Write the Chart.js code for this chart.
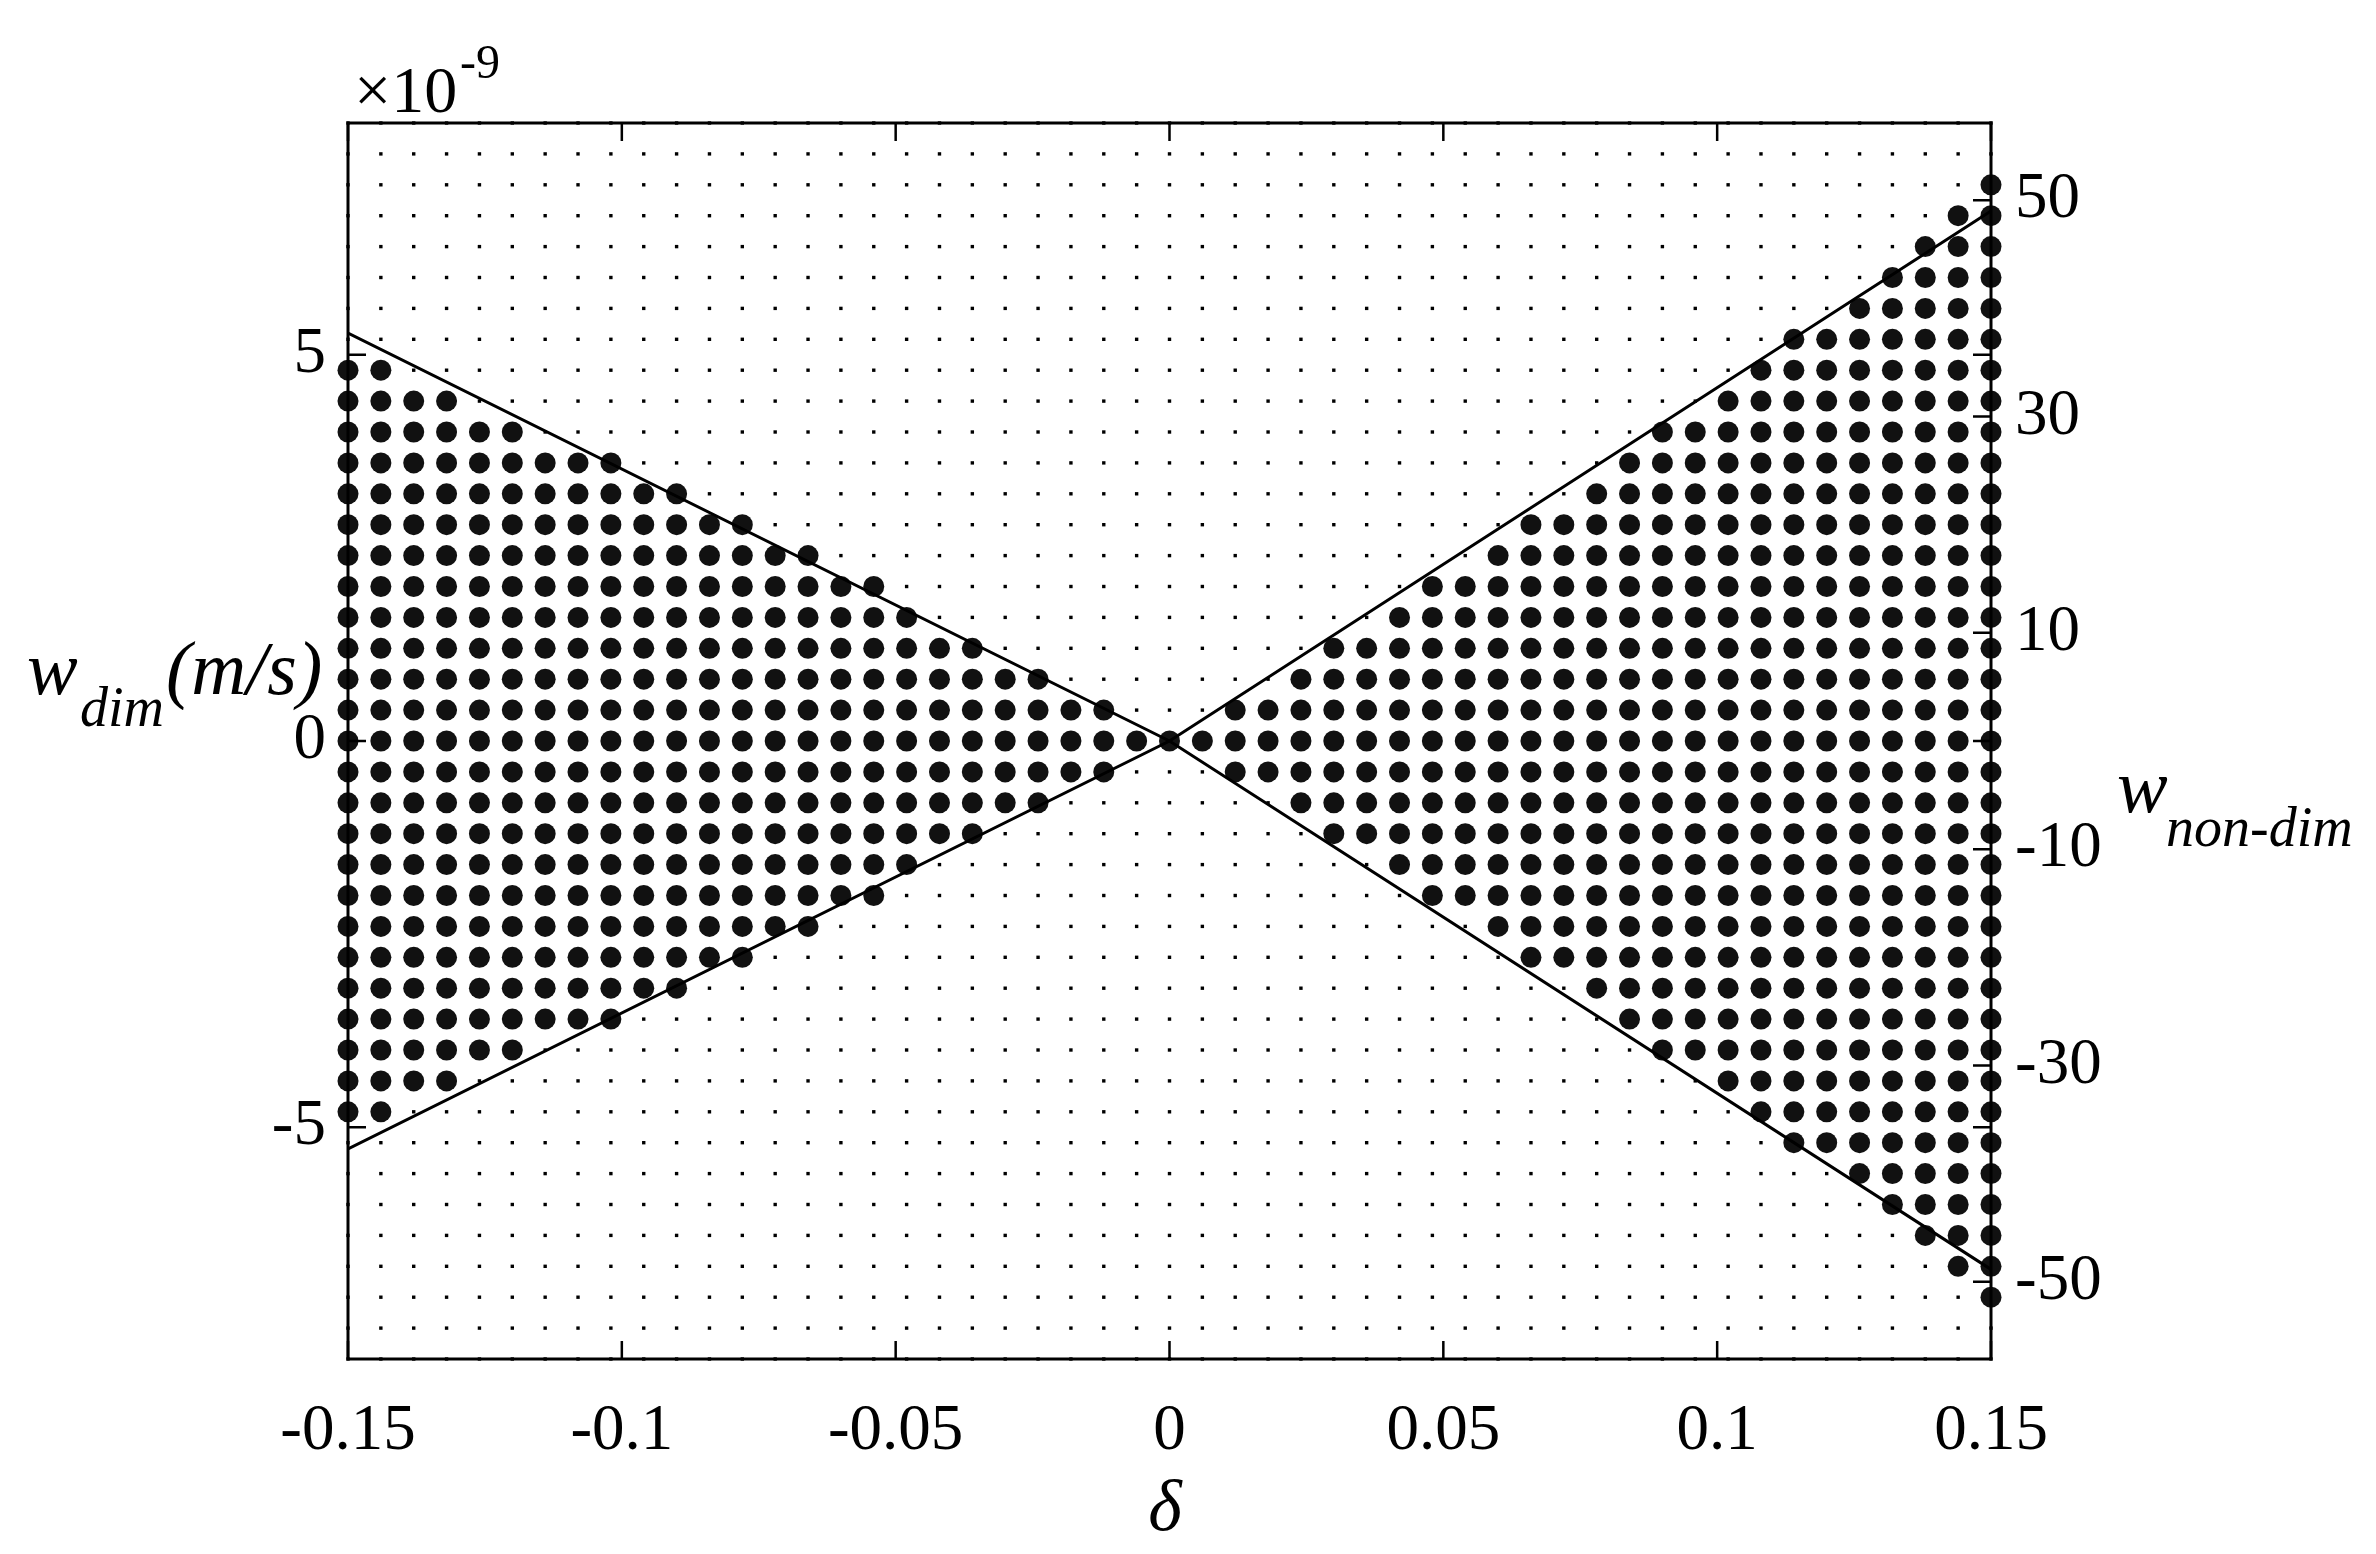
<!DOCTYPE html>
<html>
<head>
<meta charset="utf-8">
<script src="https://cdn.jsdelivr.net/npm/chart.js@4.4.1/dist/chart.umd.min.js"></script>
<style>
  html, body { margin: 0; padding: 0; background: #fff; }
  #wrap { width: 2376px; height: 1554px; position: relative; }
</style>
</head>
<body>
<div id="wrap"><canvas id="grafico"></canvas></div>
<script>
// tick labels
const deltaTicks = [-0.15, -0.1, -0.05, 0, 0.05, 0.1, 0.15];
const wDimTicks = [-5, 0, 5];                  // x 10^-9 m/s
const wNonDimTicks = [-50, -30, -10, 10, 30, 50];
const wNonDimRange = [-57.14, 57.14];          // right axis limits

// grid of computed points (delta, w_dim in 10^-9 m/s)
const deltaGrid = [-0.150, -0.144, -0.138, -0.132, -0.126, -0.120, -0.114, -0.108, -0.102, -0.096,
  -0.090, -0.084, -0.078, -0.072, -0.066, -0.060, -0.054, -0.048, -0.042, -0.036,
  -0.030, -0.024, -0.018, -0.012, -0.006, 0, 0.006, 0.012, 0.018, 0.024,
  0.030, 0.036, 0.042, 0.048, 0.054, 0.060, 0.066, 0.072, 0.078, 0.084,
  0.090, 0.096, 0.102, 0.108, 0.114, 0.120, 0.126, 0.132, 0.138, 0.144, 0.150];
const wGrid = [-8.0, -7.6, -7.2, -6.8, -6.4, -6.0, -5.6, -5.2, -4.8, -4.4,
  -4.0, -3.6, -3.2, -2.8, -2.4, -2.0, -1.6, -1.2, -0.8, -0.4,
  0, 0.4, 0.8, 1.2, 1.6, 2.0, 2.4, 2.8, 3.2, 3.6,
  4.0, 4.4, 4.8, 5.2, 5.6, 6.0, 6.4, 6.8, 7.2, 7.6, 8.0];

// for each delta column: how many grid rows above (and below) zero are big dots
const bigRows = [12, 12, 11, 11, 10, 10, 9, 9, 9, 8, 8, 7, 7, 6, 6, 5, 5, 4, 3, 3, 2, 2, 1, 1, 0,
  0, 0, 1, 1, 2, 3, 3, 4, 5, 5, 6, 7, 7, 8, 9, 10, 10, 11, 12, 13, 13, 14, 15, 16, 17, 18];

// boundary lines
const lineDelta = [-0.15, 0, 0.15];
const lineDown = [5.28, 0, -6.84];
const lineUp = [-5.28, 0, 6.86];

const zeroRow = wGrid.indexOf(0);
const smallPts = [];
const bigPts = [];
deltaGrid.forEach((d, i) => {
    wGrid.forEach((w, j) => {
        if (Math.abs(j - zeroRow) <= bigRows[i]) bigPts.push({ x: d, y: w });
        else smallPts.push({ x: d, y: w });
    });
});

const toXY = (ys) => lineDelta.map((d, i) => ({ x: d, y: ys[i] }));

const SERIF = "'Liberation Serif', 'Times New Roman', serif";
const fmt = (v) => String(Number(v.toFixed(3)));

// box, inward ticks and free texts
const marcoPlugin = {
    id: 'marco',
    afterDraw(chart) {
        const ctx = chart.ctx;
        const a = chart.chartArea;
        const sx = chart.scales.x, sy = chart.scales.y, sy2 = chart.scales.y2;
        const tl = 18;
        ctx.save();
        ctx.strokeStyle = '#000';
        ctx.lineWidth = 3;
        ctx.strokeRect(a.left, a.top, a.right - a.left, a.bottom - a.top);
        ctx.lineWidth = 2.5;
        ctx.beginPath();
        deltaTicks.forEach(v => {
            const px = sx.getPixelForValue(v);
            ctx.moveTo(px, a.bottom); ctx.lineTo(px, a.bottom - tl);
            ctx.moveTo(px, a.top); ctx.lineTo(px, a.top + tl);
        });
        wDimTicks.forEach(v => {
            const py = sy.getPixelForValue(v);
            ctx.moveTo(a.left, py); ctx.lineTo(a.left + tl, py);
            ctx.moveTo(a.right, py); ctx.lineTo(a.right - tl, py);
        });
        wNonDimTicks.forEach(v => {
            const py = sy2.getPixelForValue(v);
            ctx.moveTo(a.right, py); ctx.lineTo(a.right - tl, py);
        });
        ctx.stroke();

        ctx.fillStyle = '#000';
        ctx.textBaseline = 'alphabetic';
        ctx.textAlign = 'left';
        // x10^-9
        ctx.font = '66px ' + SERIF;
        ctx.fillText('\u00d710', 354, 112);
        ctx.font = '48px ' + SERIF;
        ctx.fillText('-9', 460, 78);
        // left title
        ctx.font = 'italic 76px ' + SERIF;
        ctx.fillText('w', 27, 694);
        ctx.font = 'italic 56px ' + SERIF;
        ctx.fillText('dim', 80, 726);
        ctx.font = 'italic 76px ' + SERIF;
        ctx.fillText('(m/s)', 166, 694);
        // right title
        ctx.font = 'italic 76px ' + SERIF;
        ctx.fillText('w', 2117, 812);
        ctx.font = 'italic 56px ' + SERIF;
        ctx.fillText('non-dim', 2166, 846);
        // x title
        ctx.textAlign = 'center';
        ctx.font = 'italic 72px ' + SERIF;
        ctx.fillText('\u03b4', 1165, 1530);
        ctx.restore();
    }
};

const canvasGrafico = document.getElementById('grafico');
new Chart(canvasGrafico, {
    type: 'scatter',
    data: {
        datasets: [
            { data: toXY(lineDown), showLine: true, borderColor: '#000', borderWidth: 3, pointRadius: 0, yAxisID: 'y' },
            { data: toXY(lineUp), showLine: true, borderColor: '#000', borderWidth: 3, pointRadius: 0, yAxisID: 'y' },
            { data: bigPts, pointRadius: 10.5, pointStyle: 'circle', backgroundColor: '#111', borderWidth: 0, clip: false, yAxisID: 'y' },
            { data: smallPts, pointRadius: 2.4, pointStyle: 'rect', backgroundColor: '#000', borderWidth: 0, clip: false, yAxisID: 'y' }
        ]
    },
    options: {
        responsive: true,
        maintainAspectRatio: false,
        devicePixelRatio: 1,
        animation: false,
        events: [],
        layout: { padding: { top: 123, left: 0, right: 0, bottom: 0 } },
        plugins: { legend: { display: false }, tooltip: { enabled: false } },
        scales: {
            x: {
                type: 'linear', min: -0.15, max: 0.15,
                grid: { display: false, drawTicks: false },
                border: { display: false },
                afterBuildTicks: (s) => { s.ticks = deltaTicks.map(v => ({ value: v })); },
                afterFit: (s) => { s.height = 195; },
                ticks: { autoSkip: false, maxRotation: 0, padding: 34, color: '#000',
                         font: { family: SERIF, size: 65 }, callback: (v) => fmt(v) }
            },
            y: {
                type: 'linear', position: 'left', min: -8, max: 8,
                grid: { display: false, drawTicks: false },
                border: { display: false },
                afterBuildTicks: (s) => { s.ticks = wDimTicks.map(v => ({ value: v })); },
                afterFit: (s) => { s.width = 348; },
                ticks: { padding: 22, color: '#000', font: { family: SERIF, size: 65 }, callback: (v) => fmt(v) }
            },
            y2: {
                type: 'linear', position: 'right', min: wNonDimRange[0], max: wNonDimRange[1],
                grid: { display: false, drawTicks: false },
                border: { display: false },
                afterBuildTicks: (s) => { s.ticks = wNonDimTicks.map(v => ({ value: v })); },
                afterFit: (s) => { s.width = 385; },
                ticks: { padding: 24, color: '#000', font: { family: SERIF, size: 65 }, callback: (v) => fmt(v) }
            }
        }
    },
    plugins: [marcoPlugin]
});
</script>
</body>
</html>
